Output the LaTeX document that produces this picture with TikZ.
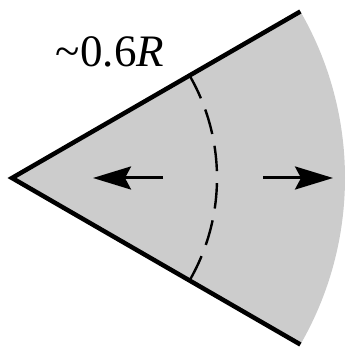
\documentclass[tikz,border=0pt]{standalone}
\usepackage{fontspec}
\setmainfont{Liberation Serif}
\usetikzlibrary{arrows.meta}
\begin{document}
\begin{tikzpicture}[x=1pt,y=1pt,
  edge/.style={line width=4.5pt},
  dasharc/.style={line width=2.4pt,dash pattern=on 25.5pt off 12pt},
  arr/.style={line width=3pt,-{Stealth[length=38pt,width=23pt,inset=6pt]}},
  lbl/.style={anchor=base,inner sep=0pt,font=\fontsize{45}{54}\selectfont}]
\useasboundingbox (0,0) rectangle (345,347);
\coordinate (O) at (12,169);
\coordinate (A) at ([shift={(30:333)}]O);
\coordinate (B) at ([shift={(-30:333)}]O);
\coordinate (D) at ([shift={(30:205)}]O);
\fill[black!20] (O) -- (A) arc[start angle=30,end angle=-30,radius=333] -- cycle;
\draw[edge] (A) -- (O) -- (B);
\draw[dasharc] (D) arc[start angle=30,end angle=-30,radius=205];
\coordinate (l1) at (163,169);
\coordinate (l2) at (93,169);
\coordinate (r1) at (263,169);
\coordinate (r2) at (333,169);
\draw[arr] (l1) -- (l2);
\draw[arr] (r1) -- (r2);
\node[lbl] (label) at (110,280) {\textasciitilde0.6\textit{R}};
\end{tikzpicture}
\end{document}
